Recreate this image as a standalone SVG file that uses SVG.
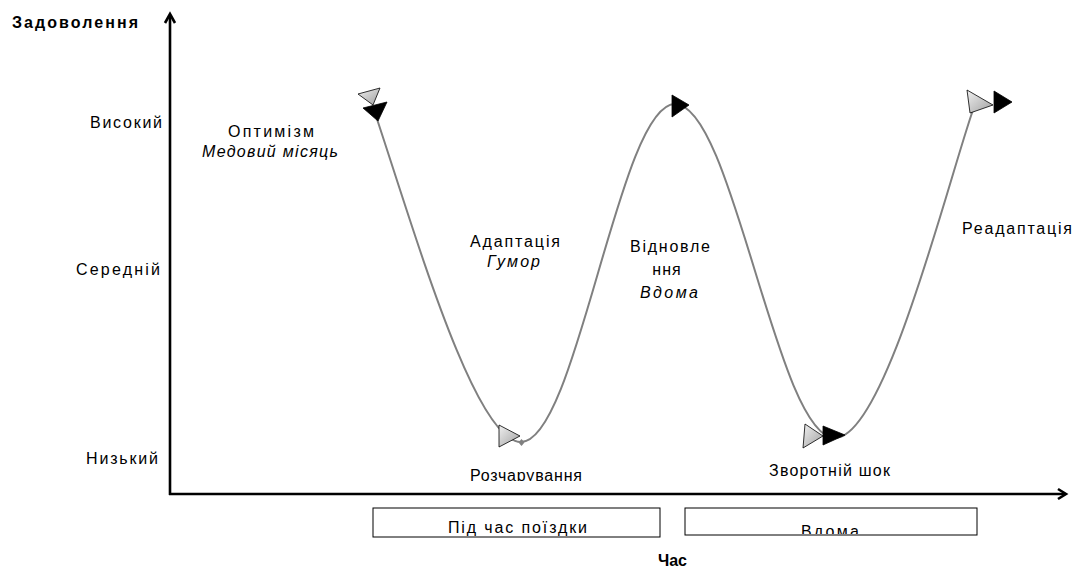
<svg xmlns="http://www.w3.org/2000/svg" width="1075" height="572" viewBox="0 0 1075 572">
<style>
text{font-family:"Liberation Sans",Arial,sans-serif;font-size:16px;fill:#000}
.b{font-weight:bold}
.i{font-style:italic}
.ax{stroke:#000;stroke-width:2.6;fill:none}
.curve{stroke:#808080;stroke-width:2;fill:none}
.blk{fill:#000;stroke:#000;stroke-width:0.8}
.lt{fill:url(#g);stroke:#000;stroke-width:0.8}
.box{fill:#fff;stroke:#000;stroke-width:1}
</style>
<defs>
<linearGradient id="g" x1="0" y1="0" x2="1" y2="1">
<stop offset="0" stop-color="#f0f0f0"/>
<stop offset="1" stop-color="#a0a0a0"/>
</linearGradient>
<clipPath id="cb2"><rect x="685" y="508" width="292" height="26"/></clipPath>
<clipPath id="cr"><rect x="440" y="455" width="180" height="26"/></clipPath>
</defs>
<rect width="1075" height="572" fill="#fff"/>
<g id="axes">
<line class="ax" x1="170" y1="495" x2="170" y2="15"/>
<polyline class="ax" points="165,23 170,14 175,23"/>
<line class="ax" x1="169" y1="494" x2="1065" y2="494"/>
<polyline class="ax" points="1058,489 1066,494 1058,499"/>
</g>
<g id="connectors">
<path class="curve" d="M375,113 C415,233 475,442 521,442 C577,442 619,104 675,104 C733,104 777,438 835,438 C885,438 948,181 973,110"/>
<polygon class="lt" points="358,94 380,88 373,105"/>
<polygon class="blk" points="363,108 387,102 378,121"/>
<polygon class="lt" points="499,425 499,447 520,436"/>
<polygon points="521.5,439 524.5,442.5 521.5,446 518.5,442.5" fill="#808080"/>
<polygon class="blk" points="672,95 672,117 689,105"/>
<polygon class="lt" points="805,424 803,448 823,436"/>
<polygon class="blk" points="823,426 823,445 845,435"/>
<polygon class="lt" points="967,90 970,113 993,105"/>
<polygon class="blk" points="994,91 994,113 1012,102"/>
</g>
<g id="axis-labels">
<text class="b" x="12" y="28" textLength="126" lengthAdjust="spacing">Задоволення</text>
<text x="90" y="128" textLength="72" lengthAdjust="spacing">Високий</text>
<text x="76" y="275" textLength="84" lengthAdjust="spacing">Середній</text>
<text x="86" y="464" textLength="72" lengthAdjust="spacing">Низький</text>
<text class="b" x="658" y="566" textLength="29" lengthAdjust="spacing">Час</text>
</g>
<g id="node-optimism">
<text x="228" y="137" textLength="86" lengthAdjust="spacing">Оптимізм</text>
<text class="i" x="202" y="157" textLength="136" lengthAdjust="spacing">Медовий місяць</text>
</g>
<g id="node-adaptation">
<text x="470" y="247" textLength="90" lengthAdjust="spacing">Адаптація</text>
<text class="i" x="487" y="267" textLength="53" lengthAdjust="spacing">Гумор</text>
</g>
<g id="node-recovery">
<text x="630" y="252" textLength="80" lengthAdjust="spacing">Відновле</text>
<text x="667" y="275" text-anchor="middle" letter-spacing="1">ння</text>
<text class="i" x="640" y="298" textLength="58" lengthAdjust="spacing">Вдома</text>
</g>
<g id="node-readaptation">
<text x="962" y="234" textLength="110" lengthAdjust="spacing">Реадаптація</text>
</g>
<g id="node-disappointment">
<text x="470" y="481" textLength="112" lengthAdjust="spacing" clip-path="url(#cr)">Розчарування</text>
</g>
<g id="node-reverse-shock">
<text x="769" y="476" textLength="121" lengthAdjust="spacing">Зворотній шок</text>
</g>
<g id="node-trip">
<rect class="box" x="373" y="508" width="287" height="29"/>
<text x="448" y="533" textLength="139" lengthAdjust="spacing">Під час поїздки</text>
</g>
<g id="node-home">
<rect class="box" x="685" y="508" width="292" height="27"/>
<text x="801" y="537" textLength="58" lengthAdjust="spacing" clip-path="url(#cb2)">Вдома</text>
</g>
</svg>
